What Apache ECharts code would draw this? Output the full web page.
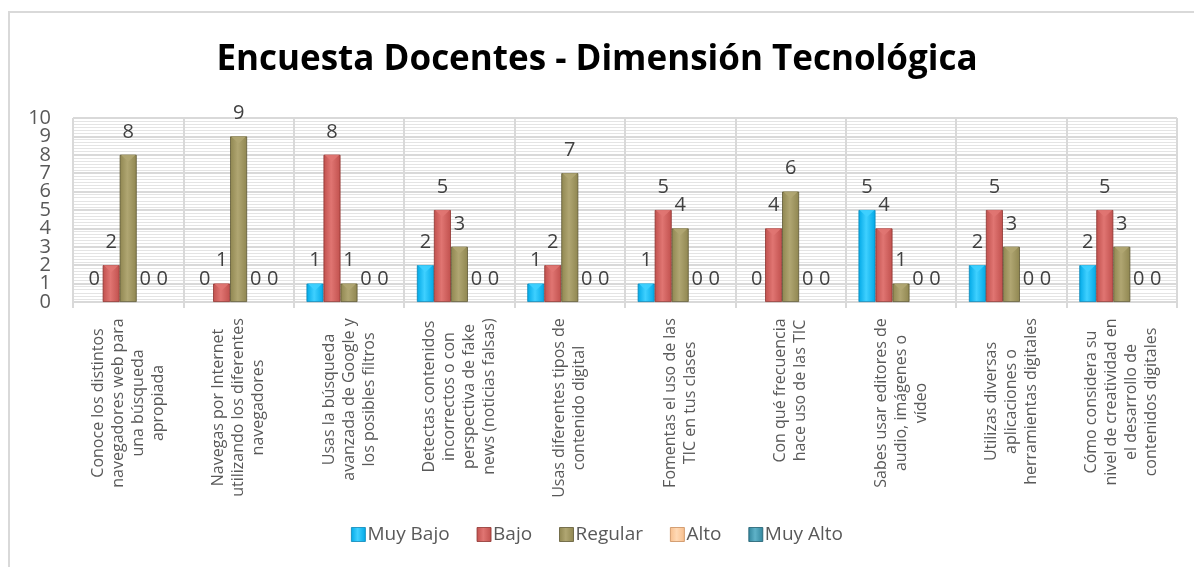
<!DOCTYPE html>
<html>
<head>
    <meta charset="utf-8">
    <title>Encuesta Docentes - Dimensión Tecnológica</title>
    <script type="text/javascript" src="https://cdn.jsdelivr.net/npm/echarts@6/dist/echarts.min.js"></script>
    <style>
        html, body { margin: 0; padding: 0; background: #fff; }
    </style>
</head>
<body>
<div id="main" style="width:1194px;height:567px;"></div>

<script type="text/javascript">
    //datos
    var categorias = [
        'Conoce los distintos\nnavegadores web para\nuna búsqueda\napropiada',
        'Navegas por Internet\nutilizando los diferentes\nnavegadores',
        'Usas la búsqueda\navanzada de Google y\nlos posibles filtros',
        'Detectas contenidos\nincorrectos o con\nperspectiva de fake\nnews (noticias falsas)',
        'Usas diferentes tipos de\ncontenido digital',
        'Fomentas el uso de las\nTIC en tus clases',
        'Con qué frecuencia\nhace uso de las TIC',
        'Sabes usar editores de\naudio, imágenes o\nvídeo',
        'Utilizas diversas\naplicaciones o\nherramientas digitales',
        'Cómo considera su\nnivel de creatividad en\nel desarrollo de\ncontenidos digitales'
    ];
    var niveles = ['Muy Bajo', 'Bajo', 'Regular', 'Alto', 'Muy Alto'];
    var muyBajo = [0, 0, 1, 2, 1, 1, 0, 5, 2, 2];
    var bajo = [2, 1, 8, 5, 2, 5, 4, 4, 5, 5];
    var regular = [8, 9, 1, 3, 7, 4, 6, 1, 3, 3];
    var alto = [0, 0, 0, 0, 0, 0, 0, 0, 0, 0];
    var muyAlto = [0, 0, 0, 0, 0, 0, 0, 0, 0, 0];
    var valoresY = [0, 1, 2, 3, 4, 5, 6, 7, 8, 9, 10];

    //colores tipo 3D: [borde, claro, base]
    var colores = [
        ['#0a86b8', '#3fd0ff', '#00a8e6'],
        ['#8e3330', '#e07572', '#c0504d'],
        ['#5e5833', '#b0a672', '#8f8650'],
        ['#c98d5c', '#ffd9b5', '#f7be8c'],
        ['#1d5c6d', '#5fb2c8', '#31859c']
    ];

    var fuente = '"Open Sans", "Noto Sans", sans-serif';
    var chart = echarts.init(document.getElementById('main'));

    //ancho de cada etiqueta para centrar las lineas
    var ctx = document.createElement('canvas').getContext('2d');
    ctx.font = '16px "Open Sans"';
    var rich = {};
    categorias.forEach(function (c, i) {
        var w = Math.max.apply(null, c.split('\n').map(function (l) { return ctx.measureText(l).width; }));
        rich['r' + i] = { width: Math.ceil(w) + 2, align: 'center', fontSize: 16, lineHeight: 20, color: '#595959', fontFamily: fuente };
    });

    function gradiente(c) {
        return new echarts.graphic.LinearGradient(0, 0, 1, 0, [
            { offset: 0, color: c[2] },
            { offset: 0.45, color: c[1] },
            { offset: 1, color: c[2] }
        ]);
    }

    var datos = [muyBajo, bajo, regular, alto, muyAlto];
    var series = niveles.map(function (n, i) {
        return {
            name: n,
            type: 'bar',
            yAxisIndex: 0,
            //sin borde en barras de valor 0
            data: datos[i].map(function (v) {
                return v === 0 ? { value: v, itemStyle: { borderWidth: 0 } } : v;
            }),
            barWidth: 17,
            barGap: '0%',
            itemStyle: {
                color: gradiente(colores[i]),
                borderColor: colores[i][0],
                borderWidth: 0.8
            },
            label: {
                show: true,
                position: 'top',
                distance: 13,
                fontSize: 20,
                fontFamily: fuente,
                color: '#404040'
            }
        };
    });
    //punta clara de cada barra (efecto bisel)
    niveles.forEach(function (n, i) {
        series.push({
            name: n + ' punta',
            type: 'pictorialBar',
            yAxisIndex: 0,
            symbol: 'triangle',
            symbolRotate: 180,
            symbolPosition: 'end',
            symbolSize: [15, 7],
            barWidth: 17,
            barGap: '0%',
            z: 3,
            silent: true,
            itemStyle: { color: colores[i][1], opacity: 0.9 },
            data: datos[i].map(function (v) {
                return v === 0 ? { value: v, symbolSize: [0, 0] } : v;
            })
        });
    });

    //etiquetas del eje Y repartidas en dos ejes para que no se oculten
    var etiquetaY = {
        margin: 22,
        fontFamily: fuente,
        fontSize: 20,
        color: '#595959',
        showMinLabel: true,
        showMaxLabel: true
    };
    function ejeY(valores, conLineas) {
        return {
            type: 'value',
            position: 'left',
            min: valoresY[0],
            max: valoresY[valoresY.length - 1],
            interval: 1,
            axisLine: { show: false },
            axisTick: { show: false },
            axisLabel: Object.assign({ customValues: valores }, etiquetaY),
            splitLine: { show: conLineas, lineStyle: { color: '#d9d9d9', width: 2 } },
            minorTick: { show: false, splitNumber: 6 },
            minorSplitLine: { show: conLineas, lineStyle: { color: '#e4e4e4', width: 1 } }
        };
    }

    var option = {
        backgroundColor: '#fff',
        animation: false,
        color: colores.map(function (c) { return c[2]; }),
        title: {
            text: 'Encuesta Docentes - Dimensión Tecnológica',
            left: 'center',
            top: 38,
            textStyle: { fontFamily: fuente, fontWeight: 'bold', fontSize: 35, color: '#000' }
        },
        graphic: [{
            type: 'rect',
            shape: { x: 9, y: 12, width: 1300, height: 700 },
            style: { fill: 'none', stroke: '#d9d9d9', lineWidth: 2 },
            z: -1
        }],
        legend: {
            data: niveles.map(function (n, i) {
                return { name: n, itemStyle: { color: gradiente(colores[i]), borderColor: colores[i][0], borderWidth: 0.8 } };
            }),
            bottom: 18,
            left: 'center',
            itemWidth: 14,
            itemHeight: 14,
            itemGap: 27,
            icon: 'rect',
            textStyle: { fontFamily: fuente, fontSize: 19, color: '#595959', padding: [0, 0, 0, -3] }
        },
        grid: { left: 73, right: 17, top: 118, bottom: 265 },
        xAxis: {
            type: 'category',
            data: categorias,
            axisLine: { lineStyle: { color: '#d9d9d9', width: 2 } },
            axisTick: { show: true, length: 6, lineStyle: { color: '#d9d9d9', width: 2 } },
            splitLine: { show: true, lineStyle: { color: '#d9d9d9', width: 2 } },
            axisLabel: {
                interval: 0,
                rotate: 90,
                margin: 15,
                formatter: function (v, i) {
                    return v.split('\n').map(function (l) { return '{r' + i + '|' + l + '}'; }).join('\n');
                },
                rich: rich
            }
        },
        yAxis: [
            ejeY(valoresY.filter(function (v) { return v % 2 === 0; }), true),
            ejeY(valoresY.filter(function (v) { return v % 2 === 1; }), false)
        ],
        series: series
    };
    chart.setOption(option);
</script>
</body>
</html>
